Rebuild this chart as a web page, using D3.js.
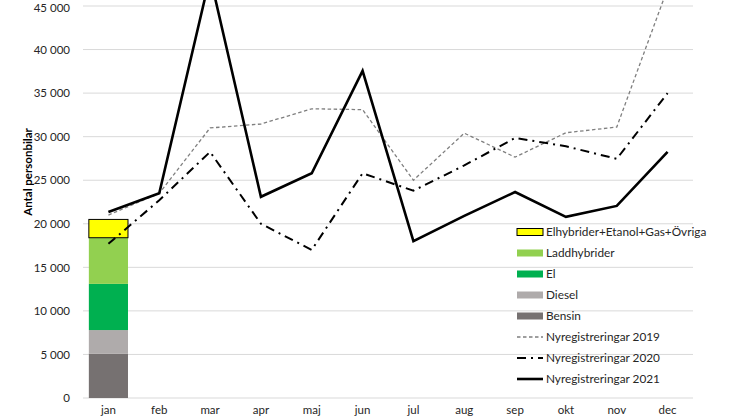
<!DOCTYPE html>
<html><head><meta charset="utf-8">
<script src="https://cdn.jsdelivr.net/npm/d3@7"></script>
<style>body{margin:0;background:#fff}svg{display:block;font-family:Lato,"Open Sans",sans-serif}</style>
</head><body><svg id="c" width="746" height="419"></svg>
<script>
const months = ["jan","feb","mar","apr","maj","jun","jul","aug","sep","okt","nov","dec"];
const yTicks = [0,5000,10000,15000,20000,25000,30000,35000,40000,45000];
const barMonth = "jan";
const bensin = 5100;
const diesel = 2700;
const el = 5300;
const laddhybrider = 5300;
const ovriga = 2100;
const reg2019 = [21000,23500,31000,31450,33200,33100,25000,30400,27650,30450,31100,47000];
const reg2020 = [17700,22700,28250,20000,17000,25800,23800,26700,29850,28900,27450,35000];
const reg2021 = [21350,23500,48400,23100,25800,37550,18000,20900,23650,20800,22050,28250];

const stackNames = ["Bensin","Diesel","El","Laddhybrider","Elhybrider+Etanol+Gas+Övriga"];
const stackVals = [bensin,diesel,el,laddhybrider,ovriga];
const stackColors = ["#767171","#afabab","#00b050","#92d050","#ffff00"];

const svg = d3.select("#c");
const x = d3.scaleBand().domain(months).range([83,693]).paddingInner(0.23).paddingOuter(0.115);
const y = d3.scaleLinear().domain([0,45000]).range([398,6]);
const loc = d3.formatLocale({decimal:",",thousands:"\u00a0",grouping:[3],currency:["",""]});
const fmt = loc.format(",d");

// grid
svg.append("g").selectAll("line").data(yTicks).join("line")
  .attr("x1",83).attr("x2",693).attr("y1",d=>y(d)).attr("y2",d=>y(d))
  .attr("stroke","#d9d9d9").attr("stroke-width",1);

// y axis labels
const ya = svg.append("g").attr("transform","translate(83,0)")
  .call(d3.axisLeft(y).tickValues(yTicks).tickFormat(fmt).tickSize(0).tickPadding(13));
ya.select(".domain").remove();
ya.selectAll("text").attr("font-size",11.5).attr("fill","#262626").attr("font-family","Lato,sans-serif");
ya.selectAll("text").filter(d=>d===45000).attr("dy","0.45em");

// x axis labels
const xa = svg.append("g").attr("transform","translate(0,398)")
  .call(d3.axisBottom(x).tickSize(0).tickPadding(8));
xa.select(".domain").remove();
xa.selectAll("text").attr("font-size",11.5).attr("fill","#262626").attr("font-family","Lato,sans-serif");

// stacked bar
let cum = 0;
const stackData = stackVals.map((v,i)=>{const o={name:stackNames[i],y0:cum,y1:cum+v,c:stackColors[i]};cum+=v;return o;});
svg.append("g").selectAll("rect").data(stackData).join("rect")
  .attr("x",x(barMonth)).attr("width",x.bandwidth())
  .attr("y",d=>y(d.y1)).attr("height",d=>y(d.y0)-y(d.y1))
  .attr("fill",d=>d.c)
  .attr("stroke",(d,i)=>i===4?"#000":"none").attr("stroke-width",1);

// lines
const cx = m => x(m)+x.bandwidth()/2;
const line = d3.line().x((d,i)=>cx(months[i])).y(d=>y(d));
const series = [
  {name:"Nyregistreringar 2019",data:reg2019,stroke:"#7f7f7f",w:1.3,dash:"3.5,2.5"},
  {name:"Nyregistreringar 2020",data:reg2020,stroke:"#000",w:2,dash:"9,5,2,5"},
  {name:"Nyregistreringar 2021",data:reg2021,stroke:"#000",w:2.6,dash:null}
];
svg.append("g").selectAll("path").data(series).join("path")
  .attr("d",d=>line(d.data)).attr("fill","none")
  .attr("stroke",d=>d.stroke).attr("stroke-width",d=>d.w)
  .attr("stroke-dasharray",d=>d.dash).attr("stroke-linejoin","miter");

// y title
svg.append("text").attr("transform","translate(32,172) rotate(-90)")
  .attr("text-anchor","middle").attr("font-size",11.5).attr("font-weight","bold")
  .attr("fill","#000").text("Antal personbilar");

// legend
const legItems = [
  ...stackData.slice().reverse().map(d=>({type:"rect",name:d.name,c:d.c,stroke:d.name.startsWith("Elhyb")})),
  ...series.map(s=>({type:"line",name:s.name,s}))
];
const lg = svg.append("g");
legItems.forEach((it,i)=>{
  const yy = 232 + i*21;
  if(it.type==="rect"){
    lg.append("rect").attr("x",517).attr("y",yy-3.5).attr("width",26).attr("height",7)
      .attr("fill",it.c).attr("stroke",it.stroke?"#000":"none").attr("stroke-width",1);
  } else {
    lg.append("line").attr("x1",517).attr("x2",543).attr("y1",yy).attr("y2",yy)
      .attr("stroke",it.s.stroke).attr("stroke-width",it.s.w).attr("stroke-dasharray",it.s.dash);
  }
  lg.append("text").attr("x",546).attr("y",yy).attr("dy","0.35em")
    .attr("font-size",11.8).attr("fill","#262626").text(it.name);
});
</script></body></html>
